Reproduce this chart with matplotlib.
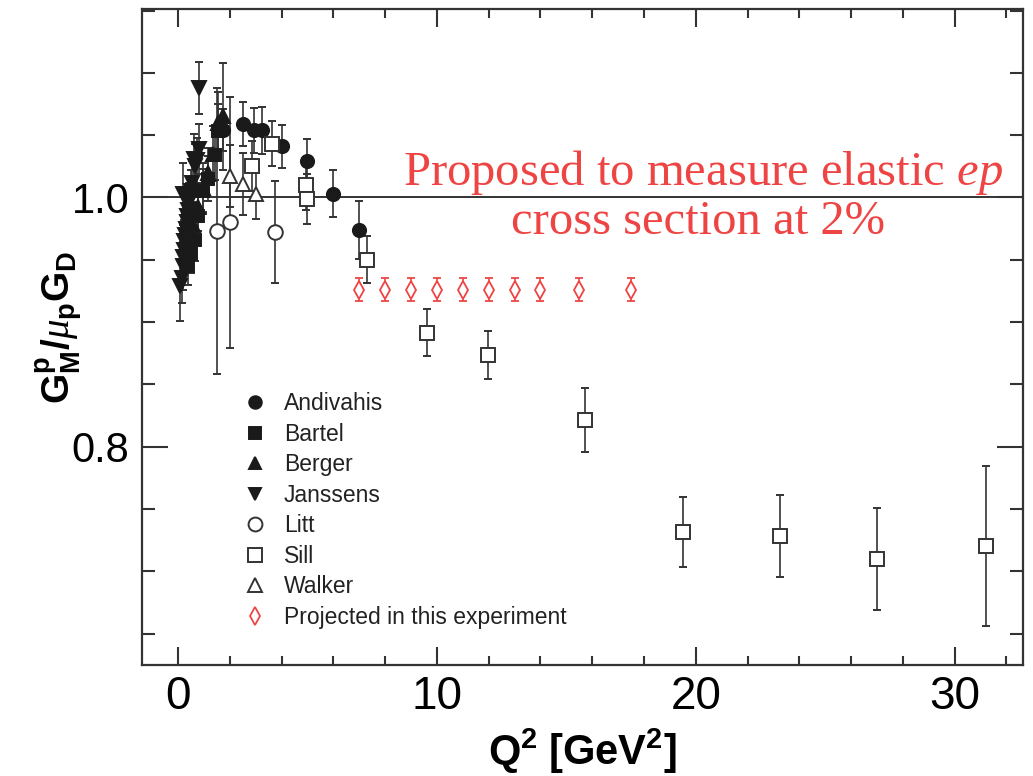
import matplotlib
matplotlib.use("Agg")
import matplotlib.pyplot as plt
from matplotlib.lines import Line2D
from matplotlib.ticker import FixedLocator, MultipleLocator, NullFormatter

plt.rcParams['mathtext.fontset'] = 'custom'
plt.rcParams['mathtext.rm'] = 'Liberation Sans:bold'
plt.rcParams['mathtext.bf'] = 'Liberation Sans:bold'
plt.rcParams['mathtext.it'] = 'Liberation Serif:italic'
plt.rcParams['font.family'] = ['Liberation Sans', 'DejaVu Sans']

# ---- data: Q^2 [GeV^2], G_M^p / (mu_p G_D), uncertainty ----
andivahis_q2 = [1.75, 2.50, 2.95, 3.25, 4.00, 5.00, 6.00, 7.00]
andivahis_gm = [1.054, 1.059, 1.054, 1.054, 1.041, 1.029, 1.003, 0.974]
andivahis_err = [0.017, 0.018, 0.018, 0.019, 0.017, 0.018, 0.019, 0.023]

bartel_q2 = [0.39, 0.50, 0.67, 0.78, 0.97, 1.17, 1.44, 1.53]
bartel_gm = [0.945, 0.955, 0.966, 0.985, 1.005, 1.015, 1.034, 1.053]
bartel_err = [0.015, 0.016, 0.017, 0.017, 0.018, 0.018, 0.020, 0.022]

berger_q2 = [0.39, 0.58, 0.78, 0.97, 1.17, 1.36, 1.56, 1.75]
berger_gm = [0.962, 0.978, 0.992, 1.008, 1.020, 1.035, 1.060, 1.065]
berger_err = [0.018, 0.018, 0.019, 0.020, 0.020, 0.022, 0.025, 0.043]

janssens_q2 = [0.06, 0.16, 0.18, 0.19, 0.20, 0.23, 0.25, 0.27, 0.30, 0.33,
               0.35, 0.39, 0.43, 0.47, 0.50, 0.55, 0.61, 0.66, 0.72, 0.80, 0.83]
janssens_gm = [0.929, 0.935, 0.945, 1.003, 0.952, 0.958, 0.965, 0.970, 0.975, 0.980,
               0.985, 0.990, 0.996, 1.000, 1.005, 1.012, 1.031, 1.025, 1.030, 1.039, 1.088]
janssens_err = [0.028, 0.020, 0.019, 0.025, 0.018, 0.018, 0.017, 0.017, 0.016, 0.016,
                0.016, 0.016, 0.016, 0.016, 0.017, 0.017, 0.020, 0.018, 0.018, 0.020, 0.021]

litt_q2 = [1.50, 2.00, 3.75]
litt_gm = [0.973, 0.980, 0.972]
litt_err = [0.115, 0.101, 0.041]

sill_q2 = [2.86, 3.63, 4.95, 5.00, 7.30, 9.61, 11.99, 15.72, 19.50, 23.24, 26.99, 31.20]
sill_gm = [1.025, 1.043, 1.010, 0.999, 0.950, 0.8915, 0.8736, 0.8214, 0.7318, 0.7286, 0.7099, 0.7205]
sill_err = [0.020, 0.018, 0.020, 0.020, 0.019, 0.019, 0.019, 0.026, 0.028, 0.033, 0.041, 0.064]

walker_q2 = [2.00, 2.50, 3.00]
walker_gm = [1.017, 1.011, 1.003]
walker_err = [0.025, 0.025, 0.020]

projected_q2 = [7.0, 8.0, 9.0, 10.0, 11.0, 12.0, 13.0, 14.0, 15.5, 17.5]
projected_gm = [0.926, 0.926, 0.926, 0.926, 0.926, 0.926, 0.926, 0.926, 0.926, 0.926]
projected_err = [0.009, 0.009, 0.009, 0.009, 0.009, 0.009, 0.009, 0.009, 0.009, 0.009]

x_major = [0, 10, 20, 30]
y_major = [0.8, 1.0]
y_major_labels = ['0.8', '1.0']

INK = '#1a1a1a'
RED = '#ee4444'

fig = plt.figure(figsize=(10.33, 7.76), dpi=100)
ax = fig.add_axes([0.1372, 0.1430, 0.8531, 0.8450])
ax.set_xlim(-1.40, 32.64)
ax.set_ylim(0.6248, 1.151)

ax.axhline(1.0, color='#333333', lw=1.4, zorder=1)

common = dict(linestyle='none', ecolor='#333333', elinewidth=1.2,
              capsize=3.2, capthick=1.2, zorder=3)

series = [
    (andivahis_q2, andivahis_gm, andivahis_err, 'o', INK, INK, 9.5, 'Andivahis'),
    (bartel_q2, bartel_gm, bartel_err, 's', INK, INK, 9.0, 'Bartel'),
    (berger_q2, berger_gm, berger_err, '^', INK, INK, 9.5, 'Berger'),
    (janssens_q2, janssens_gm, janssens_err, 'v', INK, INK, 9.5, 'Janssens'),
    (litt_q2, litt_gm, litt_err, 'o', 'white', '#333333', 10.5, 'Litt'),
    (sill_q2, sill_gm, sill_err, 's', 'white', '#333333', 10.5, 'Sill'),
    (walker_q2, walker_gm, walker_err, '^', 'white', '#333333', 10.0, 'Walker'),
]

handles = []
for q2, gm, err, mk, face, edge, ms, name in series:
    ax.errorbar(q2, gm, yerr=err, marker=mk, ms=ms, mfc=face, mec=edge,
                mew=1.4, **common)
    handles.append(Line2D([], [], linestyle='none', marker=mk, ms=ms * 0.95,
                          mfc=face, mec=edge, mew=1.4, label=name))

ax.errorbar(projected_q2, projected_gm, yerr=projected_err, linestyle='none',
            marker='d', ms=9, mfc='white', mec=RED, mew=1.3, ecolor=RED,
            elinewidth=1.2, capsize=3.0, capthick=1.2, zorder=4)
handles.append(Line2D([], [], linestyle='none', marker='d', ms=9, mfc='white',
                      mec=RED, mew=1.3, label='Projected in this experiment'))

leg = fig.legend(handles=handles, loc='upper left',
                 bbox_to_anchor=(244 / 1033, 1 - 392 / 776),
                 frameon=False, fontsize=16.5, handlelength=1.0,
                 handletextpad=0.75, labelspacing=0.33, borderpad=0,
                 borderaxespad=0)
for t in leg.get_texts():
    t.set_color('#222222')

# axis ticks and labels
ax.xaxis.set_major_locator(FixedLocator(x_major))
ax.xaxis.set_minor_locator(MultipleLocator(2))
ax.set_xticklabels([str(v) for v in x_major])
ax.yaxis.set_major_locator(FixedLocator(y_major))
ax.yaxis.set_minor_locator(MultipleLocator(0.05))
ax.yaxis.set_minor_formatter(NullFormatter())
ax.set_yticklabels(y_major_labels)

ax.tick_params(which='both', direction='in', top=True, right=True,
               color='#333333', width=1.5)
ax.tick_params(axis='x', which='major', length=13, labelsize=33, pad=7)
ax.tick_params(axis='x', which='minor', length=6.5)
ax.tick_params(axis='y', which='major', length=19, labelsize=30, pad=9)
ax.tick_params(axis='y', which='minor', length=9.5)
for sp in ax.spines.values():
    sp.set_linewidth(1.6)
    sp.set_color('#333333')

ax.set_xlabel(r'$\mathrm{Q^2\ [GeV^2]}$', fontsize=30, labelpad=6)
ax.set_ylabel(r'$\mathrm{G^p_M/}\mu_\mathrm{p}\mathrm{G_D}$', fontsize=28)
ax.yaxis.set_label_coords(-0.064, 0.515)

fig.text(0.681, 0.762, 'Proposed to measure elastic $ep$',
         ha='center', va='baseline', family='Liberation Serif',
         fontsize=35, color=RED)
fig.text(0.676, 0.699, 'cross section at 2%',
         ha='center', va='baseline', family='Liberation Serif',
         fontsize=35, color=RED)

fig.savefig('out.png', dpi=100)
